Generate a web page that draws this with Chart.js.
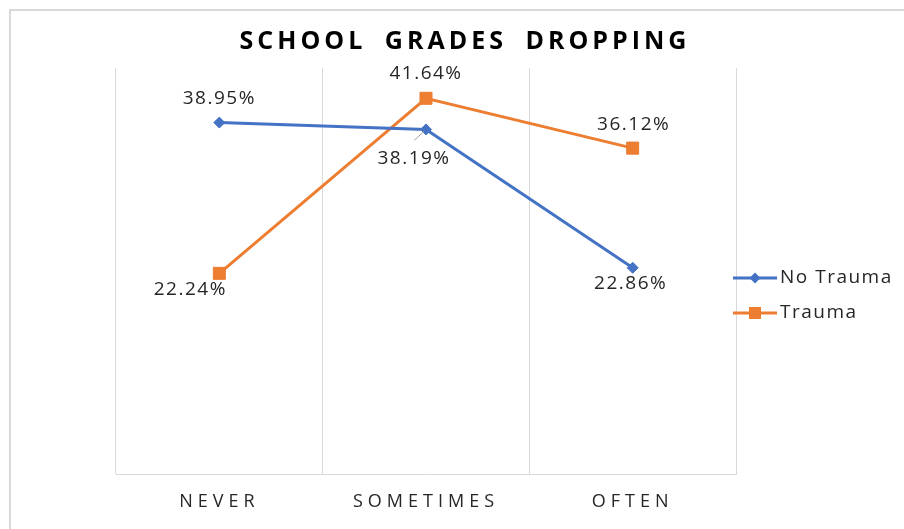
<!DOCTYPE html>
<html>
<head>
<meta charset="utf-8">
<script src="https://cdn.jsdelivr.net/npm/chart.js@4.4.1/dist/chart.umd.min.js"></script>
<style>
    body { margin: 0; background: #fff; }
    #wrap { position: relative; width: 904px; height: 529px; }
    #frame {
        position: absolute; left: 9px; top: 9px; width: 900px; height: 525px;
        border-top: 2px solid #d9d9d9; border-left: 2px solid #d9d9d9;
        pointer-events: none;
    }
</style>
</head>
<body>
<div id="wrap">
    <canvas id="chart" width="904" height="529"></canvas>
    <div id="frame"></div>
</div>
<script>
// データ
const titleText = 'SCHOOL GRADES DROPPING';
const categories = ['NEVER', 'SOMETIMES', 'OFTEN'];
const seriesNames = ['No Trauma', 'Trauma'];
const noTrauma = [38.95, 38.19, 22.86];
const trauma = [22.24, 41.64, 36.12];

// ラベル位置(点からのずれ)
const labelDx = [[0, -12, -2], [-29, 0, 1]];
const labelDy = [[-24, 29, 16], [16, -25, -24]];

const textColor = '#262626';

// 値ラベル・タイトル・凡例を描くプラグイン
const decorPlugin = {
    id: 'decor',
    beforeDraw(chart) {
        chart.ctx.letterSpacing = '5px';
    },
    beforeDatasetsDraw(chart) {
        chart.ctx.letterSpacing = '0px';
    },
    afterDatasetsDraw(chart) {
        const ctx = chart.ctx;
        ctx.save();

        // タイトル
        ctx.letterSpacing = '4px';
        ctx.wordSpacing = '8px';
        ctx.font = 'bold 25px "Open Sans"';
        ctx.fillStyle = '#000';
        ctx.textAlign = 'center';
        ctx.textBaseline = 'middle';
        ctx.fillText(titleText, 465, 42);
        ctx.wordSpacing = '0px';

        // 値ラベル
        ctx.letterSpacing = '1.5px';
        ctx.font = '19px "Open Sans"';
        ctx.fillStyle = textColor;
        chart.data.datasets.forEach((ds, i) => {
            const meta = chart.getDatasetMeta(i);
            meta.data.forEach((pt, j) => {
                const x = pt.x + labelDx[i][j];
                const y = pt.y + labelDy[i][j];
                ctx.fillText(ds.data[j].toFixed(2) + '%', x, y);
            });
        });

        // 38.19% の引き出し線
        const p = chart.getDatasetMeta(0).data[1];
        ctx.strokeStyle = '#a6a6a6';
        ctx.lineWidth = 1;
        ctx.beginPath();
        ctx.moveTo(p.x - 12, p.y + 11);
        ctx.lineTo(p.x - 2, p.y + 2);
        ctx.stroke();

        // 凡例
        const legendY = [278, 313];
        ctx.textAlign = 'left';
        ctx.letterSpacing = '1.5px';
        chart.data.datasets.forEach((ds, i) => {
            const y = legendY[i];
            ctx.strokeStyle = ds.borderColor;
            ctx.lineWidth = 3;
            ctx.beginPath();
            ctx.moveTo(733, y);
            ctx.lineTo(777, y);
            ctx.stroke();
            ctx.fillStyle = ds.borderColor;
            ctx.beginPath();
            if (ds.pointStyle === 'rectRot') {
                ctx.moveTo(755, y - 5.5);
                ctx.lineTo(760.5, y);
                ctx.lineTo(755, y + 5.5);
                ctx.lineTo(749.5, y);
                ctx.closePath();
            } else {
                ctx.rect(749, y - 6, 12, 12);
            }
            ctx.fill();
            ctx.fillStyle = textColor;
            ctx.fillText(ds.label, 780, y);
        });
        ctx.restore();
    }
};

new Chart(document.getElementById('chart'), {
    type: 'line',
    data: {
        labels: categories,
        datasets: [
            {
                label: seriesNames[0],
                data: noTrauma,
                borderColor: '#4472c4',
                backgroundColor: '#4472c4',
                borderWidth: 3,
                pointStyle: 'rectRot',
                pointRadius: 5.5,
                pointBorderWidth: 1
            },
            {
                label: seriesNames[1],
                data: trauma,
                borderColor: '#ed7d31',
                backgroundColor: '#ed7d31',
                borderWidth: 3,
                pointStyle: 'rect',
                pointRadius: 8.5,
                pointBorderWidth: 1
            }
        ]
    },
    options: {
        responsive: false,
        animation: false,
        layout: { padding: { left: 116, right: 168, top: 68, bottom: 17 } },
        plugins: {
            legend: { display: false },
            title: { display: false },
            tooltip: { enabled: false }
        },
        scales: {
            x: {
                offset: true,
                grid: { offset: true, color: '#d9d9d9', lineWidth: 1, drawTicks: false },
                border: { display: true, color: '#d9d9d9', width: 1 },
                ticks: {
                    padding: 17,
                    color: textColor,
                    font: { family: '"Open Sans"', size: 18 }
                },
                afterFit(scale) {
                    scale.height = 38;
                }
            },
            y: {
                display: false,
                min: 0,
                max: 45
            }
        }
    },
    plugins: [decorPlugin]
});
</script>
</body>
</html>
